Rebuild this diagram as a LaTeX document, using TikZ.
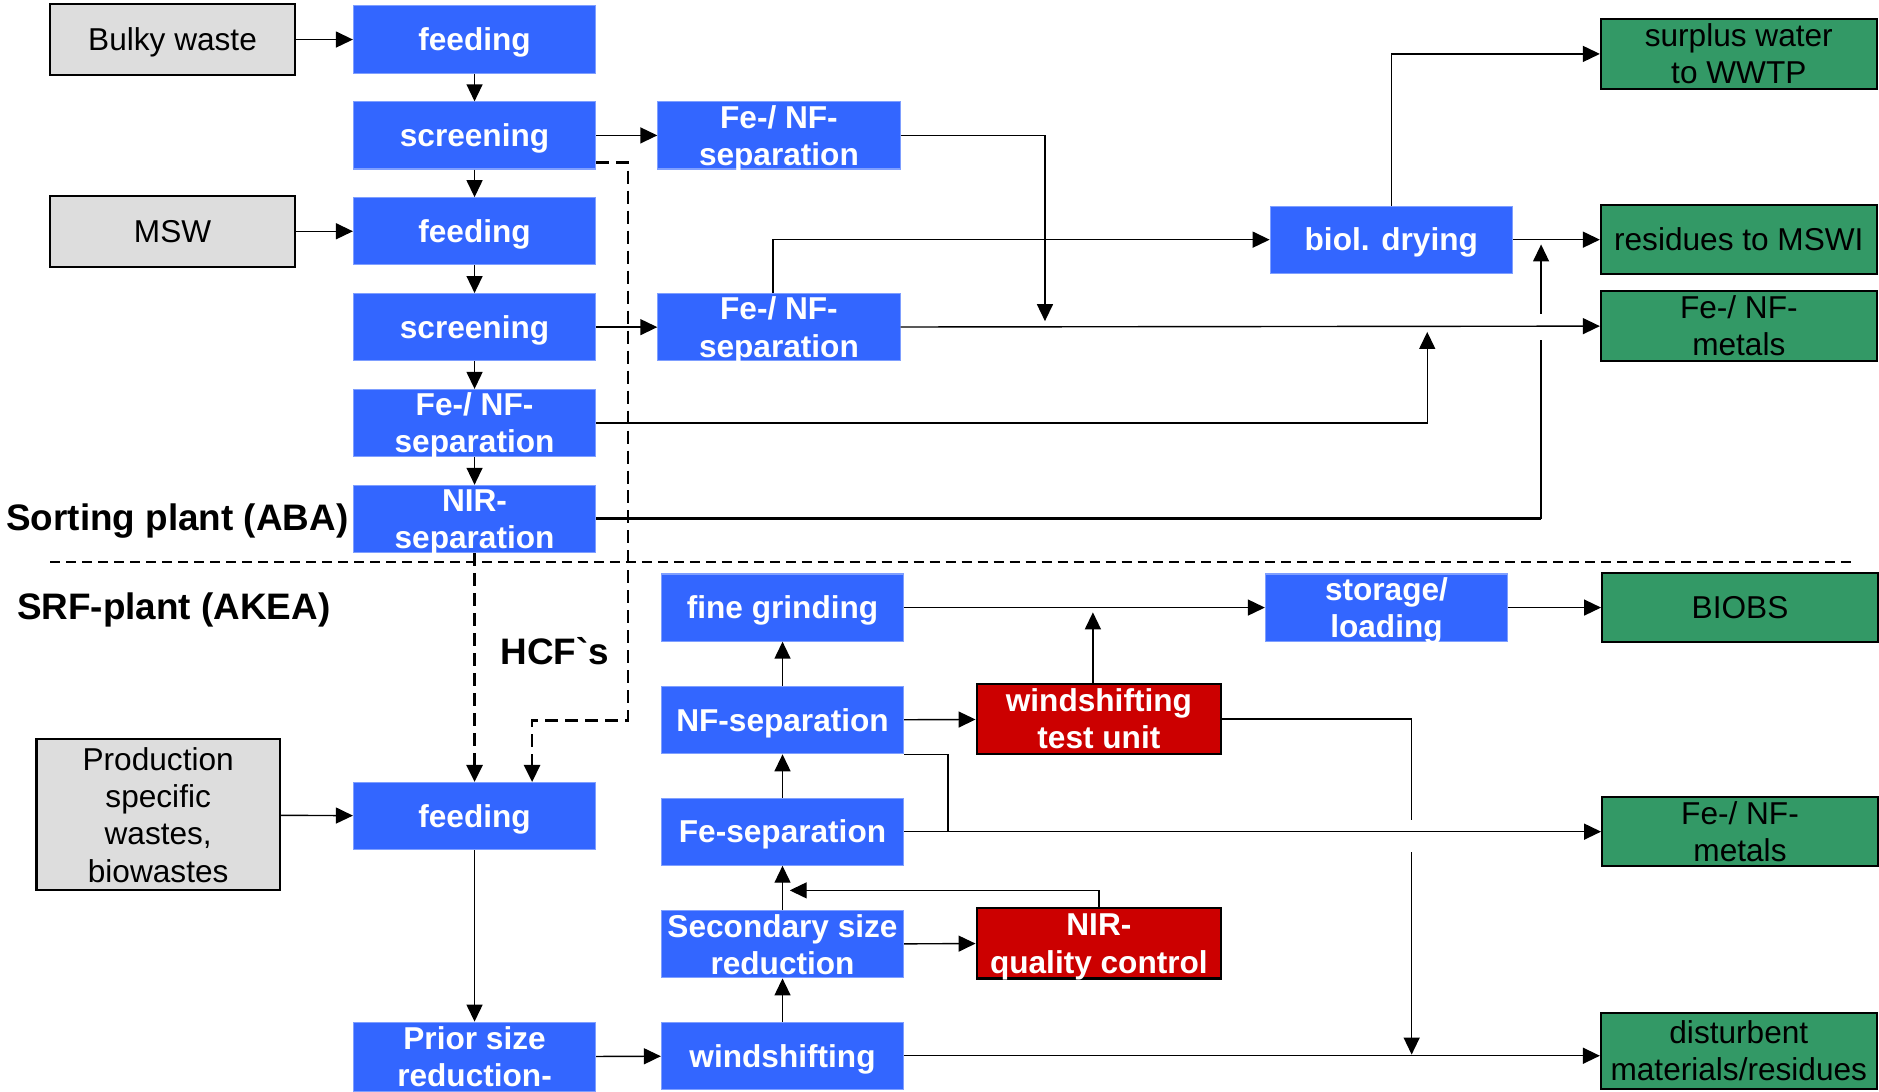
\documentclass[tikz,border=0pt]{standalone}
\usepackage{fontspec}
\setmainfont{Liberation Sans}
\usetikzlibrary{graphs}
\usetikzlibrary{arrows.meta}
\definecolor{procblue}{HTML}{3366FF}
\definecolor{procedge}{HTML}{7F9FFF}
\definecolor{inputgray}{HTML}{DDDDDD}
\definecolor{productgreen}{HTML}{339966}
\definecolor{testred}{HTML}{CC0000}
\newcommand{\boxtext}[1]{\raisebox{\dimexpr-0.25em-1.1pt\relax}[0pt][0pt]{\begin{tabular}{@{}c@{}}#1\end{tabular}}}
\tikzset{
  proc/.style= {fill=procblue, draw=procedge, line width=0.3pt, text=white, inner sep=0,
    minimum width=2.424cm, minimum height=0.672cm, font=\fontsize{9}{10.6}\selectfont\bfseries},
  inbox/.style= {fill=inputgray, draw, line width=0.6pt, inner sep=0,
    minimum width=2.448cm, minimum height=0.708cm, font=\fontsize{9}{10.6}\selectfont},
  outbox/.style= {fill=productgreen, draw, line width=0.6pt, inner sep=0,
    minimum width=2.76cm, minimum height=0.696cm, font=\fontsize{9}{10.6}\selectfont},
  testbox/.style= {fill=testred, draw, line width=0.6pt, text=white, inner sep=0,
    minimum width=2.448cm, minimum height=0.708cm, font=\fontsize{9}{10.6}\selectfont\bfseries},
  plant/.style= {inner sep=0, font=\fontsize{10.5}{12}\selectfont\bfseries},
  hcf/.style= {line width=0.75pt, dash pattern=on 0.13cm off 0.07cm},
  plantline/.style= {line width=0.4pt, dash pattern=on 0.1cm off 0.06cm},
}

\begin{document}
\begin{tikzpicture}[x=0.012cm, y=-0.012cm, >={Triangle[length=1.7mm, width=1.6mm]}]
  \useasboundingbox (0,0) rectangle (1568,911) ;

  \node [inbox] (bulky) at (144,33) {\boxtext{Bulky waste}} ;
  \node [inbox] (msw) at (144,193) {\boxtext{MSW}} ;
  \node [inbox, minimum width=2.436cm, minimum height=1.512cm] (prodw) at (132,680) {\boxtext{Production\\specific\\wastes,\\biowastes}} ;

  \node [proc] (feedA) at (396,33) {\boxtext{feeding}} ;
  \node [proc] (screenA) at (396,113) {\boxtext{screening}} ;
  \node [proc] (feedB) at (396,193) {\boxtext{feeding}} ;
  \node [proc] (screenB) at (396,273) {\boxtext{screening}} ;
  \node [proc] (fenfA) at (396,353) {\boxtext{Fe-/ NF-\\separation}} ;
  \node [proc] (nirsep) at (396,433) {\boxtext{NIR-\\separation}} ;
  \node [proc] (fenfB) at (650,113) {\boxtext{Fe-/ NF-\\separation}} ;
  \node [proc] (fenfC) at (650,273) {\boxtext{Fe-/ NF-\\separation}} ;
  \node [proc] (dry) at (1161,200) {\boxtext{biol. drying}} ;

  \node [proc] (feedC) at (396,681) {\boxtext{feeding}} ;
  \node [proc, minimum height=0.696cm] (prior) at (396,882) {\boxtext{Prior size\\reduction-}} ;
  \node [proc] (grind) at (653,507) {\boxtext{fine grinding}} ;
  \node [proc] (nfsep) at (653,601) {\boxtext{NF-separation}} ;
  \node [proc] (fesep) at (653,694) {\boxtext{Fe-separation}} ;
  \node [proc] (secsize) at (653,788) {\boxtext{Secondary size\\reduction}} ;
  \node [proc] (wind) at (653,881) {\boxtext{windshifting}} ;
  \node [proc] (store) at (1157,507) {\boxtext{storage/\\loading}} ;

  \node [testbox] (wtest) at (917,600) {\boxtext{windshifting\\test unit}} ;
  \node [testbox] (nirqc) at (917,787) {\boxtext{NIR-\\quality control}} ;

  \node [outbox] (water) at (1451,45) {\boxtext{surplus water\\to WWTP}} ;
  \node [outbox] (mswi) at (1451,200) {\boxtext{residues to MSWI}} ;
  \node [outbox] (metalA) at (1451,272) {\boxtext{Fe-/ NF-\\metals}} ;
  \node [outbox] (biobs) at (1452,507) {\boxtext{BIOBS}} ;
  \node [outbox] (metalB) at (1452,694) {\boxtext{Fe-/ NF-\\metals}} ;
  \node [outbox, minimum height=0.768cm] (residues) at (1451,877) {\boxtext{disturbent\\materials/residues}} ;

  \node [plant] (aba) at (148,435) {Sorting plant (ABA)} ;
  \node [plant] (akea) at (145,509) {SRF-plant (AKEA)} ;
  \node [plant] (hcflabel) at (463,543) {HCF\textasciigrave s} ;

  \draw [plantline] (42,469) -- (1548,469) ;

  \coordinate (j1) at (872,268) ;
  \coordinate (j2) at (1191,277) ;
  \coordinate (j3) at (1286,284) ;
  \coordinate (j4) at (1286,262) ;
  \coordinate (j5) at (1286,204) ;
  \coordinate (j6) at (912,511) ;
  \coordinate (j7) at (1178,684) ;
  \coordinate (j8) at (1178,711) ;
  \coordinate (j9) at (1178,880) ;
  \coordinate (j10) at (791,694) ;
  \coordinate (j11) at (659,743) ;
  \coordinate (h1) at (524,601) ;

  \graph {
    (bulky) -> (feedA) -> (screenA) -> (feedB) -> (screenB) -> (fenfA) -> (nirsep) ;
    (msw) -> (feedB) ;
    (screenA) -> (fenfB) ;
    (screenB) -> (fenfC) -> (metalA) ;
    (dry) -> (mswi) ;
    (prodw) -> (feedC) -> (prior) -> (wind) -> (secsize) -> (fesep) -> (nfsep) -> (grind) -> (store) -> (biobs) ;
    (fesep) -> (metalB) ;
    (nfsep) -> (wtest) ;
    (secsize) -> (nirqc) ;
  } ;

  \draw [->] (fenfB) -| (j1) ;
  \draw [->] ([xshift=-0.06cm]fenfC.north) |- (dry) ;
  \draw [->] (fenfA) -| (j2) ;
  \draw [line width=0.8pt] (nirsep) -- (nirsep -| j3) ;
  \draw (nirsep -| j3) -- (j3) ;
  \draw [->] (j4) -- (j5) ;
  \draw [->] (dry) |- (water) ;
  \draw [->] (wind) -- (wind -| residues.west) ;
  \draw [->] (wtest.north -| j6) -- (j6) ;
  \draw (wtest) -| (j7) ;
  \draw [->] (j8) -- (j9) ;
  \draw (nfsep.south east) -| (j10) ;
  \draw [->] (nirqc) |- (j11) ;
  \draw [hcf, ->] (nirsep) -- (feedC) ;
  \draw [hcf, ->] ([yshift=0.07cm]screenA.south east) -| (h1) -| ([xshift=0.576cm]feedC.north) ;
\end{tikzpicture}
\end{document}
